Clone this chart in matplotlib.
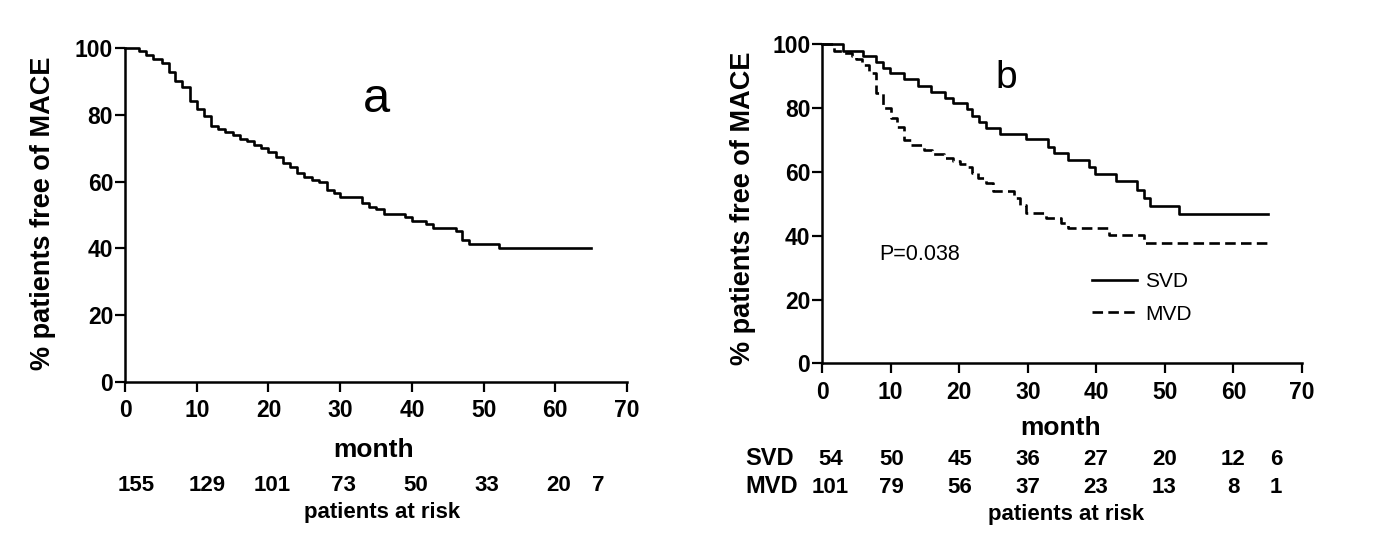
import numpy as np
import matplotlib
matplotlib.use("Agg")
import matplotlib.pyplot as plt
from matplotlib.transforms import blended_transform_factory

plt.rcParams['font.family'] = ['Liberation Sans', 'DejaVu Sans']

# panel a: all patients
t_all = [0, 1.9, 2.9, 3.9, 5.1, 6.1, 7.0, 8.0, 9.0, 10.0, 11.0, 12.0, 13.0, 14.0,
         15.0, 16.0, 17.0, 18.0, 19.0, 20.0, 21.1, 22.0, 23.0, 24.0, 25.0, 26.0,
         27.1, 28.1, 29.1, 30.0, 33.1, 34.0, 35.0, 36.1, 39.0, 40.0, 42.0, 43.0,
         46.1, 47.0, 48.0, 52.1, 65.0]
s_all = [100, 99.0, 97.8, 96.8, 95.4, 92.9, 90.2, 88.4, 84.2, 81.8, 79.7, 76.6,
         75.7, 74.7, 73.9, 72.8, 72.0, 71.0, 70.0, 69.0, 67.5, 65.5, 64.3, 62.7,
         61.3, 60.5, 59.8, 57.5, 56.5, 55.5, 53.5, 52.5, 51.8, 50.3, 49.3, 48.3,
         47.4, 46.0, 45.1, 42.4, 41.4, 40.0, 40.0]
risk_all = [155, 129, 101, 73, 50, 33, 20, 7]

# panel b: SVD vs MVD
t_svd = [0, 3.0, 6.0, 7.8, 8.9, 9.9, 11.9, 14.0, 15.9, 18.0, 19.1, 21.1, 21.9,
         22.9, 23.9, 25.9, 29.8, 32.9, 33.9, 35.9, 38.9, 39.8, 42.9, 46.0, 46.9,
         47.9, 52.0, 65.0]
s_svd = [100, 98.0, 96.3, 94.6, 92.7, 90.9, 89.0, 86.9, 85.2, 83.1, 81.7, 79.6,
         77.5, 75.8, 73.7, 71.9, 70.2, 67.9, 65.8, 63.7, 61.6, 59.4, 57.0, 54.3,
         51.7, 49.3, 46.7, 46.7]
t_mvd = [0, 1.8, 3.0, 4.3, 5.0, 5.8, 6.8, 7.8, 8.9, 10.0, 11.0, 11.9, 13.0, 14.9,
         16.0, 17.8, 19.1, 20.1, 21.1, 21.9, 22.7, 23.9, 24.9, 28.0, 28.9, 29.8,
         32.6, 34.8, 35.9, 41.9, 46.9, 65.0]
s_mvd = [100, 98.0, 97.4, 96.3, 95.3, 93.5, 91.1, 84.8, 79.9, 76.8, 74.0, 70.0,
         68.4, 66.9, 65.6, 64.5, 63.5, 62.5, 61.4, 59.8, 58.0, 56.4, 54.1, 51.7,
         49.6, 47.2, 45.5, 43.9, 42.3, 40.2, 37.6, 37.6]
risk_svd = [54, 50, 45, 36, 27, 20, 12, 6]
risk_mvd = [101, 79, 56, 37, 23, 13, 8, 1]

xticks = [0, 10, 20, 30, 40, 50, 60, 70]
yticks = [0, 20, 40, 60, 80, 100]

risk_pos_a = [1.5, 11.5, 20.5, 30.5, 40.5, 50.5, 60.5, 66]
risk_pos_b = [1.2, 10.1, 20.1, 30.0, 39.9, 49.9, 60.0, 66.2]

fig = plt.figure(figsize=(13.74, 5.52), dpi=100)
ax_a = fig.add_axes([0.0910, 0.3080, 0.3654, 0.6051])
ax_b = fig.add_axes([0.5983, 0.3418, 0.3493, 0.5779])


def style_axis(ax):
    ax.set_xlim(0, 70)
    ax.set_ylim(0, 100)
    ax.spines['top'].set_visible(False)
    ax.spines['right'].set_visible(False)
    for s in ['left', 'bottom']:
        ax.spines[s].set_linewidth(1.8)
    ax.set_xticks(xticks)
    ax.set_yticks(yticks)
    ax.tick_params(axis='both', direction='out', length=7, width=1.6, labelsize=16.5)
    ax.tick_params(axis='x', pad=5.5)
    ax.tick_params(axis='y', pad=1.5)
    for lab in ax.get_xticklabels() + ax.get_yticklabels():
        lab.set_fontweight('bold')
    ax.set_ylabel('% patients free of MACE', fontsize=19.5, fontweight='bold', va='center')


# panel a
style_axis(ax_a)
ax_a.plot(t_all, s_all, drawstyle='steps-post', color='black', lw=1.9, clip_on=False)
ax_a.yaxis.set_label_coords(-0.163, 0.506)
ax_a.text(35.1, 80.8, 'a', fontsize=35, ha='center', va='baseline')
tr_a = blended_transform_factory(ax_a.transData, fig.transFigure)
ax_a.text(34.7, 0.172, 'month', transform=tr_a, fontsize=19, fontweight='bold',
          ha='center', va='baseline')
for x, n in zip(risk_pos_a, risk_all):
    ax_a.text(x, 0.1105, str(n), transform=tr_a, fontsize=16, fontweight='bold',
              ha='center', va='baseline')
ax_a.text(35.8, 0.0616, 'patients at risk', transform=tr_a, fontsize=16,
          fontweight='bold', ha='center', va='baseline')

# panel b
style_axis(ax_b)
ax_b.plot(t_svd, s_svd, drawstyle='steps-post', color='black', lw=1.9,
          clip_on=False, label='SVD')
ax_b.plot(t_mvd, s_mvd, drawstyle='steps-post', color='black', lw=1.9,
          clip_on=False, dashes=(4, 2), label='MVD')
ax_b.yaxis.set_label_coords(-0.165, 0.485)
ax_b.text(26.9, 86.3, 'b', fontsize=28, ha='center', va='baseline')
ax_b.text(8.3, 32.4, 'P=0.038', fontsize=15.5, ha='left', va='baseline')
ax_b.legend(loc='center left', bbox_to_anchor=(0.5617, 0.205), frameon=False,
            fontsize=15, handlelength=2.2, handletextpad=0.35, labelspacing=0.65,
            borderpad=0, borderaxespad=0)
tr_b = blended_transform_factory(ax_b.transData, fig.transFigure)
ax_b.text(34.8, 0.212, 'month', transform=tr_b, fontsize=19, fontweight='bold',
          ha='center', va='baseline')
fig.text(0.5422, 0.1576, 'SVD', fontsize=17, fontweight='bold', ha='left', va='baseline')
fig.text(0.5422, 0.1069, 'MVD', fontsize=17, fontweight='bold', ha='left', va='baseline')
for x, n in zip(risk_pos_b, risk_svd):
    ax_b.text(x, 0.1576, str(n), transform=tr_b, fontsize=16, fontweight='bold',
              ha='center', va='baseline')
for x, n in zip(risk_pos_b, risk_mvd):
    ax_b.text(x, 0.1069, str(n), transform=tr_b, fontsize=16, fontweight='bold',
              ha='center', va='baseline')
ax_b.text(35.6, 0.058, 'patients at risk', transform=tr_b, fontsize=16,
          fontweight='bold', ha='center', va='baseline')

fig.savefig('out.png', dpi=100)
